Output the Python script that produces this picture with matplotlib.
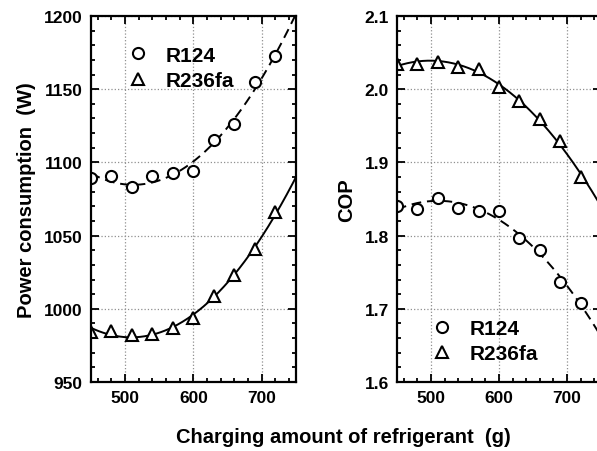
import numpy as np
import matplotlib.pyplot as plt
from matplotlib.ticker import MultipleLocator

plt.rcParams['font.family'] = ['Liberation Sans', 'DejaVu Sans']
plt.rcParams['font.weight'] = 'bold'

# charging amount (g)
charge = [450, 480, 510, 540, 570, 600, 630, 660, 690, 720]

# power consumption (W)
power_r124 = [1089, 1091, 1083, 1091, 1093, 1094, 1115, 1126, 1155, 1173]
power_r236fa = [984, 985, 982, 983, 987, 994, 1009, 1023, 1041, 1066]

# COP
cop_r124 = [1.841, 1.837, 1.851, 1.838, 1.834, 1.834, 1.797, 1.780, 1.736, 1.708]
cop_r236fa = [2.035, 2.035, 2.037, 2.031, 2.028, 2.003, 1.984, 1.959, 1.929, 1.880]

xfit = np.linspace(450, 750, 200)


def style_axes(ax, ylim, ymajor, yminor):
    ax.set_xlim(450, 750)
    ax.set_ylim(*ylim)
    ax.xaxis.set_major_locator(MultipleLocator(100))
    ax.xaxis.set_minor_locator(MultipleLocator(20))
    ax.yaxis.set_major_locator(MultipleLocator(ymajor))
    ax.yaxis.set_minor_locator(MultipleLocator(yminor))
    ax.tick_params(which='both', direction='in', top=True, right=True, width=1.3)
    ax.tick_params(which='major', length=6, labelsize=12.5, pad=6)
    ax.tick_params(which='minor', length=3)
    ax.grid(True, which='major', ls=':', color='#909090', lw=0.9)
    for s in ax.spines.values():
        s.set_linewidth(1.6)
    for lab in ax.get_xticklabels() + ax.get_yticklabels():
        lab.set_fontweight('bold')


def draw(ax, x, y1, y2, deg=2):
    p1 = np.polyfit(x, y1, deg)
    p2 = np.polyfit(x, y2, deg)
    ax.plot(xfit, np.polyval(p1, xfit), 'k', ls=(0, (5, 3)), lw=1.4)
    ax.plot(xfit, np.polyval(p2, xfit), 'k-', lw=1.4)
    h1, = ax.plot(x, y1, 'o', mfc='white', mec='black', mew=1.5, ms=8, label='R124')
    h2, = ax.plot(x, y2, '^', mfc='white', mec='black', mew=1.5, ms=8, label='R236fa')
    return h1, h2


fig = plt.figure(figsize=(5.97, 4.52), dpi=100)
ax1 = fig.add_axes([0.1524, 0.1527, 0.3434, 0.8097])
ax2 = fig.add_axes([0.665, 0.1527, 0.3417, 0.8097])

h = draw(ax1, charge, power_r124, power_r236fa)
style_axes(ax1, (950, 1200), 50, 10)
ax1.set_ylabel('Power consumption  (W)', fontsize=14.5, fontweight='bold', labelpad=6)
ax1.legend(handles=h, loc='upper left', bbox_to_anchor=(0.06, 0.97), frameon=False,
           prop={'size': 15, 'weight': 'bold'}, handletextpad=0.6, labelspacing=0.3,
           handlelength=1.5)

h = draw(ax2, charge, cop_r124, cop_r236fa)
style_axes(ax2, (1.6, 2.1), 0.1, 0.02)
ax2.yaxis.set_major_formatter(plt.FormatStrFormatter('%.1f'))
for lab in ax2.get_yticklabels():
    lab.set_fontweight('bold')
ax2.set_ylabel('COP', fontsize=14.5, fontweight='bold', labelpad=6)
ax2.legend(handles=h, loc='lower left', bbox_to_anchor=(0.05, 0.0), frameon=False,
           prop={'size': 15, 'weight': 'bold'}, handletextpad=0.6, labelspacing=0.3,
           handlelength=1.5)

fig.text(0.575, 0.01, 'Charging amount of refrigerant  (g)', ha='center', va='bottom',
         fontsize=14.5, fontweight='bold')

fig.savefig('out.png', dpi=100)
